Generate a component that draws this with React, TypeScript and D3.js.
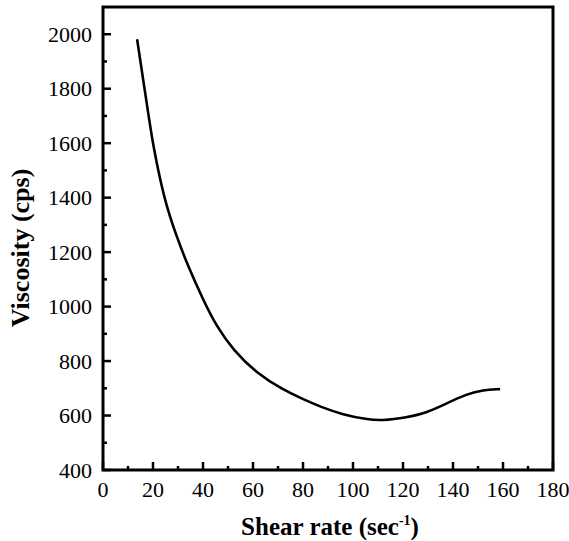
import React from "react";
import * as d3 from "d3";

const shearRate = [13.7, 16.1, 18.1, 20.1, 22.8, 25.5, 29.5, 34.1, 40.1, 45.5, 52.1, 61.5, 72.1, 80, 87, 96, 105.5, 111.5, 121.5, 129.5, 137.5, 145.5, 152.1, 158.4];
const viscosity = [1978, 1831, 1709, 1590, 1468, 1366, 1256, 1146, 1024, 926, 840, 755, 694, 660, 632, 603, 586, 581, 593, 610, 645, 679, 694, 697];

const xMajor = [0, 20, 40, 60, 80, 100, 120, 140, 160, 180];
const xMinor = [10, 30, 50, 70, 90, 110, 130, 150, 170];
const yMajor = [400, 600, 800, 1000, 1200, 1400, 1600, 1800, 2000];
const yMinor = [500, 700, 900, 1100, 1300, 1500, 1700, 1900];

const W = 569;
const H = 541;
const L = 103, R = 553, T = 7, B = 470;

export default function App() {
  const x = d3.scaleLinear().domain([0, 180]).range([L, R]);
  const y = d3.scaleLinear().domain([400, 2100]).range([B, T]);
  const pts: [number, number][] = shearRate.map((s, i) => [s, viscosity[i]]);
  const line = d3
    .line<[number, number]>()
    .x((d) => x(d[0]))
    .y((d) => y(d[1]))
    .curve(d3.curveBasis);
  const font = "'Liberation Serif', 'Times New Roman', serif";
  return (
    <svg
      width={W}
      height={H}
      style={{ position: "absolute", left: 0, top: 0, background: "#fff" }}
      fontFamily={font}
    >
      <rect x={0} y={0} width={W} height={H} fill="#fff" />
      {xMajor.map((v) => (
        <line key={"xM" + v} x1={x(v)} x2={x(v)} y1={B} y2={B - 8} stroke="#000" strokeWidth={2.5} />
      ))}
      {xMinor.map((v) => (
        <line key={"xm" + v} x1={x(v)} x2={x(v)} y1={B} y2={B - 4} stroke="#000" strokeWidth={2.5} />
      ))}
      {yMajor.map((v) => (
        <line key={"yM" + v} x1={L} x2={L + 8} y1={y(v)} y2={y(v)} stroke="#000" strokeWidth={2.5} />
      ))}
      {yMinor.map((v) => (
        <line key={"ym" + v} x1={L} x2={L + 4} y1={y(v)} y2={y(v)} stroke="#000" strokeWidth={2.5} />
      ))}
      <rect x={L} y={T} width={R - L} height={B - T} fill="none" stroke="#000" strokeWidth={3} />
      <path d={line(pts) || ""} fill="none" stroke="#000" strokeWidth={2.6} strokeLinejoin="round" strokeLinecap="round" />
      {xMajor.map((v) => (
        <text key={"xl" + v} x={x(v)} y={497} textAnchor="middle" fontSize={22}>
          {v}
        </text>
      ))}
      {yMajor.map((v) => (
        <text key={"yl" + v} x={92} y={y(v) + 7.5} textAnchor="end" fontSize={22}>
          {v}
        </text>
      ))}
      <text x={330} y={535} textAnchor="middle" fontSize={25} fontWeight="bold">
        Shear rate (sec
        <tspan fontSize={14} dy={-10}>-1</tspan>
        <tspan dy={10}>)</tspan>
      </text>
      <text
        transform={`translate(29,248) rotate(-90)`}
        textAnchor="middle"
        fontSize={26}
        fontWeight="bold"
      >
        Viscosity (cps)
      </text>
    </svg>
  );
}
